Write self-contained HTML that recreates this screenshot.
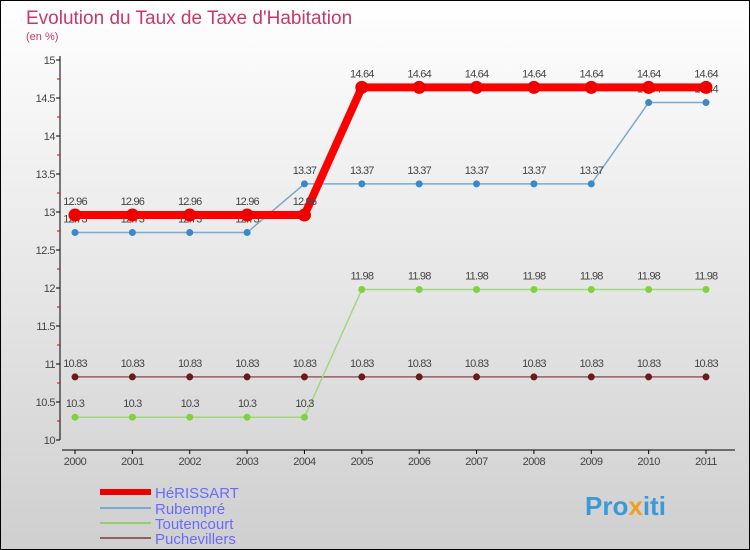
<!DOCTYPE html>
<html><head><meta charset="utf-8"><style>
body{margin:0;width:750px;height:550px;overflow:hidden}
svg{display:block;font-family:"Liberation Sans",sans-serif}
</style></head><body>
<svg width="750" height="550">
<defs><linearGradient id="bg" x1="0" y1="0" x2="0" y2="1"><stop offset="0" stop-color="#ffffff"/><stop offset="1" stop-color="#cfcfcf"/></linearGradient></defs>
<rect x="0.5" y="0.5" width="749" height="549" fill="url(#bg)" stroke="#000"/>
<text x="26" y="24" font-size="19" fill="#c8386a">Evolution du Taux de Taxe d'Habitation</text>
<text x="26" y="40" font-size="11" fill="#c8386a">(en %)</text>
<g id="axes"></g><g id="series"></g>
<g>
<line x1="100" y1="492" x2="151" y2="492" stroke="#e00" stroke-width="6"/>
<text x="155" y="498" font-size="15" fill="#6a6aff">HéRISSART</text>
<line x1="100" y1="508" x2="151" y2="508" stroke="#7aaad0" stroke-width="2"/>
<text x="155" y="514" font-size="15" fill="#6a6aff">Rubempré</text>
<line x1="100" y1="523" x2="151" y2="523" stroke="#90d070" stroke-width="2"/>
<text x="155" y="529" font-size="15" fill="#6a6aff">Toutencourt</text>
<line x1="100" y1="538" x2="151" y2="538" stroke="#906060" stroke-width="2"/>
<text x="155" y="544" font-size="15" fill="#6a6aff">Puchevillers</text>
</g>
<text x="585" y="515" font-size="26" font-weight="bold" fill="#3a9ad8">Pro<tspan fill="#f0a020">x</tspan>iti</text>
</svg>
<script>
const years=[2000,2001,2002,2003,2004,2005,2006,2007,2008,2009,2010,2011];
const herissart=[12.96,12.96,12.96,12.96,12.96,14.64,14.64,14.64,14.64,14.64,14.64,14.64];
const rubempre=[12.73,12.73,12.73,12.73,13.37,13.37,13.37,13.37,13.37,13.37,14.44,14.44];
const toutencourt=[10.3,10.3,10.3,10.3,10.3,11.98,11.98,11.98,11.98,11.98,11.98,11.98];
const puchevillers=[10.83,10.83,10.83,10.83,10.83,10.83,10.83,10.83,10.83,10.83,10.83,10.83];
const yTicks=[10,10.5,11,11.5,12,12.5,13,13.5,14,14.5,15];
const NS="http://www.w3.org/2000/svg";
const xs=i=>75+i*(706-75)/11;
const ys=v=>440-(v-10)*76;
function mk(t,a,p){const e=document.createElementNS(NS,t);for(const k in a)e.setAttribute(k,a[k]);p.appendChild(e);return e;}
const ax=document.getElementById('axes');
let l=mk('line',{x1:60,y1:56,x2:60,y2:440,stroke:'#000'},ax);


l=mk('line',{x1:62,y1:450,x2:735,y2:450,stroke:'#000'},ax);


yTicks.forEach((v,i)=>{
 mk('line',{x1:56,y1:ys(v),x2:60,y2:ys(v),stroke:'#000'},ax);
 if(i<yTicks.length-1) mk('line',{x1:57,y1:ys(v+0.25),x2:60,y2:ys(v+0.25),stroke:'#d00'},ax);
 const t=mk('text',{x:55,y:ys(v)+4,'font-size':11,fill:'#444','text-anchor':'end','letter-spacing':'-0.5'},ax);
 t.textContent=String(v);
 
 
});
years.forEach((y,i)=>{
 mk('line',{x1:xs(i),y1:450,x2:xs(i),y2:454,stroke:'#000'},ax);
 const t=mk('text',{x:xs(i),y:465,'font-size':11,fill:'#444','text-anchor':'middle','letter-spacing':'-0.5'},ax);
 t.textContent=String(y);
 
 
});
const sg=document.getElementById('series');
function draw(vals,color,dot,w,r,name){
 const g=mk('g',{},sg);
 
 
 const p=mk('polyline',{points:vals.map((v,i)=>xs(i)+','+ys(v)).join(' '),fill:'none',stroke:color,'stroke-width':w,'stroke-linejoin':'round'},g);
 
 
 vals.forEach((v,i)=>{
  const c=mk('circle',{cx:xs(i),cy:ys(v),r:r,fill:dot},g);
  
  
  const t=mk('text',{x:xs(i),y:ys(v)-10,'font-size':11,fill:'#444','text-anchor':'middle','letter-spacing':'-0.8'},g);
  t.textContent=String(v);
  
  
 });
}
draw(puchevillers,'#906060','#6a1a1a',1.5,3.5,'puchevillers');
draw(toutencourt,'#a0d880','#80d040',1.5,3.5,'toutencourt');
draw(rubempre,'#7aaad0','#3a88c8',1.5,3.5,'rubempre');
draw(herissart,'#ff0000','#ee0000',8,6.5,'herissart');
</script>
</body></html>
